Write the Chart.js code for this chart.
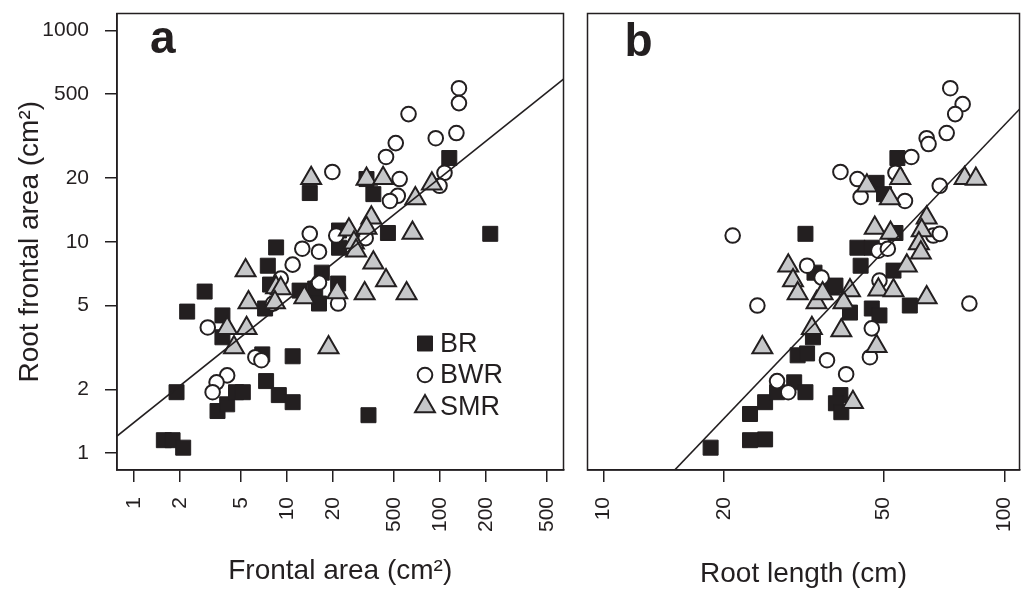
<!DOCTYPE html>
<html>
<head>
<meta charset="utf-8">
<script src="https://cdn.jsdelivr.net/npm/chart.js@4.4.1/dist/chart.umd.min.js"></script>
<style>
  html, body { margin: 0; padding: 0; background: #fff; }
  #wrap { position: relative; width: 1033px; height: 591px; }
  #chartA { position: absolute; left: 0; top: 0; }
  #chartB { position: absolute; left: 574px; top: 0; }
</style>
</head>
<body>
<div id="wrap">
  <canvas id="chartA" width="577" height="591"></canvas>
  <canvas id="chartB" width="459" height="591"></canvas>
</div>
<script>
// ---- panel a: frontal area vs root frontal area ----
const aBRx  = [1.57, 1.79, 2.10, 1.90, 2.23, 2.90, 3.79, 3.79, 3.52, 4.07, 4.65, 5.15, 7.31, 8.85, 10.9, 10.9, 6.9, 7.2, 7.5, 8.5, 7.76, 12.1, 15.3, 16.2, 16.9, 21.6, 115, 213, 45.7, 36.7, 33.1, 21.9, 21.9, 14.1, 34.1];
const aBRy  = [1.15, 1.15, 1.06, 1.94, 4.67, 5.81, 4.48, 3.53, 1.58, 1.70, 1.94, 1.94, 2.19, 1.88, 1.74, 2.87, 2.93, 4.83, 7.7, 9.4, 6.27, 5.87, 6.0, 5.10, 7.14, 6.34, 24.9, 10.9, 11.0, 16.8, 19.8, 11.3, 9.37, 17.0, 1.51];
const aBWRx = [133, 133, 62.3, 128, 93.8, 51.4, 44.4, 19.8, 54.5, 107, 99.3, 53.0, 47.1, 32.7, 14.1, 12.6, 16.2, 10.9, 21.0, 9.12, 16.2, 21.6, 3.04, 6.22, 6.81, 4.07, 3.47, 3.27, 8.11];
const aBWRy = [53.3, 45.3, 40.2, 32.7, 30.9, 29.3, 25.2, 21.4, 19.8, 21.2, 18.4, 16.5, 15.6, 10.4, 10.9, 9.27, 8.97, 7.79, 10.7, 6.69, 6.41, 5.10, 3.93, 2.84, 2.75, 2.33, 2.16, 1.94, 5.1];
const aSMRx = [33.1, 42.5, 88.5, 69.0, 35.6, 25.4, 33.1, 27.4, 28.3, 66.1, 36.7, 14.4, 5.37, 5.61, 4.07, 5.45, 4.51, 8.49, 9.12, 8.35, 13.0, 21.3, 18.7, 44.4, 32.2, 60.5];
const aSMRy = [19.8, 20.0, 18.8, 16.0, 13.0, 11.4, 11.6, 9.9, 9.07, 11.0, 7.96, 20.0, 7.30, 5.16, 3.89, 3.89, 3.16, 6.07, 6.0, 5.16, 5.44, 5.75, 3.16, 6.55, 5.69, 5.69];

// ---- panel b: root length vs root frontal area ----
const bBRx  = [18.5, 23.2, 25.3, 23.2, 25.3, 27.1, 29.9, 31.9, 30.5, 32.2, 33.3, 39.0, 38.0, 39.2, 41.2, 46.7, 48.8, 58.1, 43.8, 52.9, 37.2, 33.6, 37.9, 54.1, 48.0, 50.1, 53.5, 43.0, 46.7, 31.9];
const bBRy  = [1.06, 1.15, 1.16, 1.53, 1.74, 1.94, 2.16, 1.94, 2.90, 2.96, 3.53, 1.88, 1.72, 1.56, 4.62, 4.83, 4.48, 4.99, 7.7, 7.3, 6.07, 7.14, 6.2, 24.9, 19.0, 16.8, 11.0, 9.37, 9.37, 10.9];
const bBWRx = [73.3, 78.7, 75.4, 71.8, 64.0, 64.7, 58.6, 39.0, 43.0, 53.5, 43.8, 56.5, 69.0, 66.5, 69.0, 48.5, 51.2, 32.2, 21.0, 35.0, 48.8, 46.7, 46.2, 36.1, 40.3, 81.8, 24.2, 27.1, 28.9];
const bBWRy = [53.3, 44.8, 40.2, 32.7, 30.9, 29.0, 25.2, 21.4, 19.8, 21.2, 16.3, 15.6, 18.4, 10.7, 10.9, 9.07, 9.27, 7.7, 10.7, 6.76, 6.55, 3.89, 2.84, 2.75, 2.36, 5.10, 4.99, 2.19, 1.94];
const bSMRx = [45.4, 55.0, 79.6, 84.9, 51.8, 64.0, 62.2, 47.5, 52.0, 61.2, 61.9, 57.1, 41.2, 48.5, 52.9, 39.7, 34.0, 35.2, 64.0, 39.2, 33.1, 48.0, 41.9, 28.9, 29.7, 30.5, 24.9];
const bSMRy = [18.4, 20.0, 20.0, 19.8, 16.0, 13.0, 11.3, 11.6, 11.0, 9.8, 8.88, 7.7, 5.87, 5.92, 5.87, 5.16, 5.16, 5.69, 5.44, 3.80, 3.89, 3.20, 1.74, 7.7, 6.55, 5.69, 3.16];

// fitted power laws y = a * x^b
const fitA = { a: 1.393, b: 0.579 };
const fitB = { a: 0.00382, b: 1.985 };

// axis ticks (labels as printed on the figure)
const yTickVals   = [1, 2, 5, 10, 20, 50, 100];
const yTickLabels = ['1', '2', '5', '10', '20', '500', '1000'];
const aTickVals   = [1, 2, 5, 10, 20, 50, 100, 200, 500];
const aTickLabels = ['1', '2', '5', '10', '20', '500', '100', '200', '500'];
const bTickVals   = [10, 20, 50, 100];
const bTickLabels = ['10', '20', '50', '100'];

const INK = '#231f20';
const GREY = '#c6c7c9';
const FONT = '"Liberation Sans", Arial, Helvetica, sans-serif';
Chart.defaults.font.family = FONT;

const Y_MIN = 0.831, Y_MAX = 120.3;

const pts = (xs, ys) => xs.map((x, i) => ({ x: x, y: ys[i] }));
const fitLine = (f, lo, hi) => [lo, hi].map(x => ({ x: x, y: f.a * Math.pow(x, f.b) }));

const series = [
  { key: 'BR',  style: 'rect',     radius: 10.6, fill: INK,    border: INK, bw: 1 },
  { key: 'BWR', style: 'circle',   radius: 7.3,  fill: '#fff', border: INK, bw: 2 },
  { key: 'SMR', style: 'triangle', radius: 11.5, fill: GREY,   border: INK, bw: 2 }
];

const panelDecor = {
  id: 'panelDecor',
  afterDatasetsDraw(chart, args, opts) {
    const { ctx, chartArea: a } = chart;
    ctx.save();
    ctx.strokeStyle = INK;
    ctx.lineWidth = 1.5;
    ctx.strokeRect(a.left, a.top, a.right - a.left, a.bottom - a.top);

    ctx.fillStyle = INK;
    ctx.font = 'bold 46px ' + FONT;
    ctx.textBaseline = 'alphabetic';
    ctx.fillText(opts.letter, a.left + opts.letterDx, opts.letterY);

    if (opts.legend) {
      ctx.font = '27px ' + FONT;
      ctx.textBaseline = 'middle';
      series.forEach((s, i) => {
        const mx = a.left + 308, my = a.top + 330 + i * 31.5;
        ctx.fillStyle = s.fill;
        ctx.strokeStyle = s.border;
        ctx.lineWidth = s.bw;
        Chart.helpers.drawPoint(ctx, { pointStyle: s.style, radius: s.radius, borderWidth: s.bw, rotation: 0 }, mx, my);
        ctx.fillStyle = INK;
        ctx.fillText(s.key, mx + 15, my + 1);
      });
    }
    ctx.restore();
  }
};

function makePanel(id, cfg) {
  const datasets = [
    { label: 'fit', data: fitLine(cfg.fit, cfg.xMin, cfg.xMax), showLine: true, borderColor: INK, borderWidth: 1.6, pointRadius: 0, order: 0 }
  ];
  const data = [cfg.br, cfg.bwr, cfg.smr];
  series.slice().reverse().forEach((s, k) => {
    const idx = 2 - k;
    datasets.push({
      label: s.key,
      data: data[idx],
      pointStyle: s.style,
      pointRadius: s.radius,
      pointBackgroundColor: s.fill,
      pointBorderColor: s.border,
      pointBorderWidth: s.bw,
      showLine: false,
      order: k + 1
    });
  });

  const tickGrid = { drawOnChartArea: false, drawTicks: true, tickLength: 12, tickColor: INK, tickWidth: 1.5, lineWidth: 1.5, color: INK };
  const noPad = s => { s.paddingLeft = 0; s.paddingRight = 0; s.paddingTop = 0; s.paddingBottom = 0; };

  return new Chart(document.getElementById(id), {
    type: 'scatter',
    data: { datasets: datasets },
    options: {
      responsive: false,
      animation: false,
      events: [],
      layout: { padding: cfg.padding },
      plugins: {
        legend: { display: false },
        tooltip: { enabled: false },
        panelDecor: { letter: cfg.letter, letterDx: cfg.letterDx, letterY: cfg.letterY, legend: cfg.legend }
      },
      scales: {
        x: {
          type: 'logarithmic',
          min: cfg.xMin, max: cfg.xMax,
          afterBuildTicks: s => { s.ticks = cfg.xTicks.map(v => ({ value: v })); },
          afterFit: s => { s.height = 121; noPad(s); },
          ticks: {
            autoSkip: false, minRotation: 90, maxRotation: 90, padding: 15,
            color: INK, font: { size: 21 },
            callback: (v, i) => cfg.xLabels[i]
          },
          grid: tickGrid,
          border: { display: true, color: INK, width: 1.5 },
          title: { display: true, text: cfg.xTitle, color: INK, font: { size: 28 }, padding: { top: 0, bottom: cfg.titlePad } }
        },
        y: {
          type: 'logarithmic',
          display: cfg.showY,
          min: Y_MIN, max: Y_MAX,
          afterBuildTicks: s => { s.ticks = yTickVals.map(v => ({ value: v })); },
          afterFit: s => { s.width = cfg.showY ? 117 : 0; noPad(s); },
          ticks: {
            autoSkip: false, padding: 16, color: INK, font: { size: 21 },
            callback: (v, i) => yTickLabels[i]
          },
          grid: tickGrid,
          border: { display: true, color: INK, width: 1.5 },
          title: { display: true, text: 'Root frontal area (cm²)', color: INK, font: { size: 28 }, padding: { top: 13, bottom: 0 } }
        }
      }
    },
    plugins: [panelDecor]
  });
}

makePanel('chartA', {
  br: pts(aBRx, aBRy), bwr: pts(aBWRx, aBWRy), smr: pts(aSMRx, aSMRy),
  fit: fitA, xMin: 0.776, xMax: 641,
  xTicks: aTickVals, xLabels: aTickLabels,
  xTitle: 'Frontal area (cm²)', titlePad: 3,
  showY: true, padding: { top: 12, right: 2, bottom: 0, left: 0 },
  letter: 'a', letterDx: 33, letterY: 53, legend: true
});

makePanel('chartB', {
  br: pts(bBRx, bBRy), bwr: pts(bBWRx, bBWRy), smr: pts(bSMRx, bSMRy),
  fit: fitB, xMin: 9.12, xMax: 109.1,
  xTicks: bTickVals, xLabels: bTickLabels,
  xTitle: 'Root length (cm)', titlePad: 0,
  showY: false, padding: { top: 12, right: 2, bottom: 0, left: 1 },
  letter: 'b', letterDx: 37, letterY: 56, legend: false
});
</script>
</body>
</html>
